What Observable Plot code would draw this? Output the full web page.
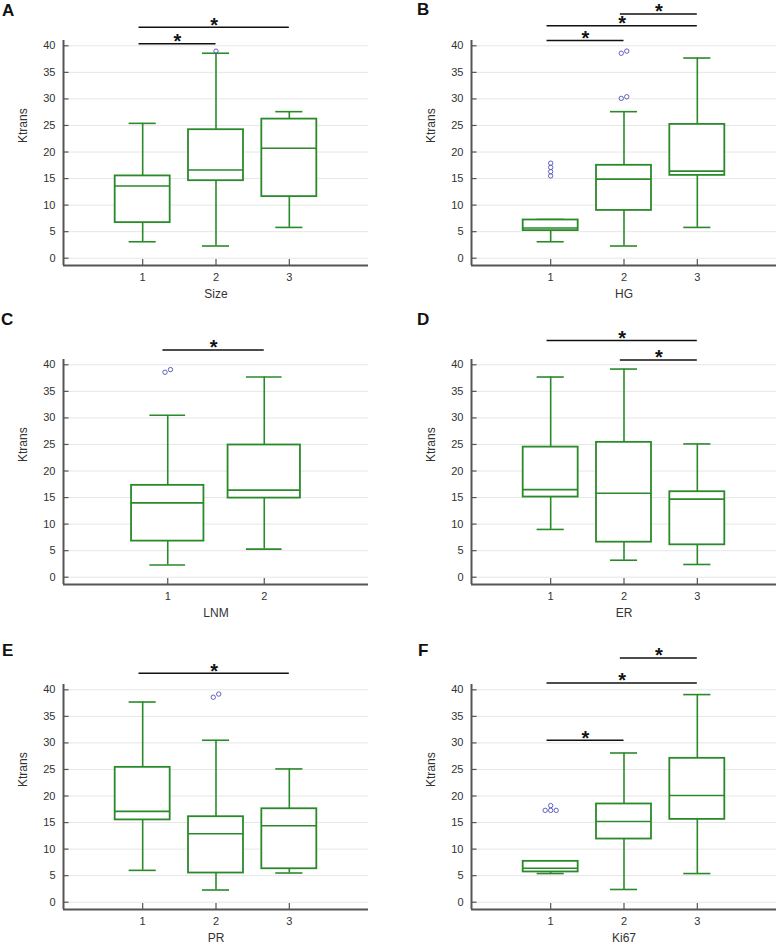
<!DOCTYPE html>
<html>
<head>
<meta charset="utf-8">
<script src="https://cdn.jsdelivr.net/npm/d3@7"></script>
<script src="https://cdn.jsdelivr.net/npm/@observablehq/plot@0.6"></script>
<style>
  html, body { margin: 0; padding: 0; background: #fff; }
  #root { position: relative; width: 778px; height: 950px; overflow: hidden; background: #fff;
          font-family: "Liberation Sans", Arial, Helvetica, sans-serif; }
  .panel { position: absolute; width: 389px; height: 310px; }
  .panel svg { max-width: none; display: block; }
  .letter { position: absolute; font-weight: bold; font-size: 17px; line-height: 17px; color: #111; }
</style>
</head>
<body>
<div id="root"></div>
<script>
// ---------- data (Ktrans) ----------
const yTitle = "Ktrans";
const yTicks = [0, 5, 10, 15, 20, 25, 30, 35, 40];

// A: Size
const sizeBoxes = [
  {group: 1, low: 3.1, q1: 6.7, median: 13.6, q3: 15.5, high: 25.4},
  {group: 2, low: 2.3, q1: 14.6, median: 16.6, q3: 24.2, high: 38.6},
  {group: 3, low: 5.8, q1: 11.6, median: 20.7, q3: 26.2, high: 27.6}
];
const sizeOutliers = [{group: 2, value: 39.0}];
const sizeSig = [{from: 1, to: 3, level: 43.5}, {from: 1, to: 2, level: 40.4}];

// B: HG
const hgBoxes = [
  {group: 1, low: 3.1, q1: 5.2, median: 5.7, q3: 7.2, high: 7.3},
  {group: 2, low: 2.3, q1: 9.0, median: 14.9, q3: 17.5, high: 27.6},
  {group: 3, low: 5.8, q1: 15.6, median: 16.4, q3: 25.2, high: 37.7}
];
const hgOutliers = [
  {group: 1, value: 15.5}, {group: 1, value: 16.3}, {group: 1, value: 17.1}, {group: 1, value: 17.9},
  {group: 2, value: 30.1}, {group: 2, value: 30.4}, {group: 2, value: 38.6}, {group: 2, value: 39.0}
];
const hgSig = [{from: 2, to: 3, level: 46.0}, {from: 1, to: 3, level: 43.8}, {from: 1, to: 2, level: 41.0}];

// C: LNM
const lnmBoxes = [
  {group: 1, low: 2.3, q1: 6.8, median: 14.0, q3: 17.3, high: 30.5},
  {group: 2, low: 5.3, q1: 14.9, median: 16.4, q3: 24.9, high: 37.7}
];
const lnmOutliers = [{group: 1, value: 38.6}, {group: 1, value: 39.1}];
const lnmSig = [{from: 1, to: 2, level: 42.8}];

// D: ER
const erBoxes = [
  {group: 1, low: 9.0, q1: 15.1, median: 16.5, q3: 24.5, high: 37.7},
  {group: 2, low: 3.2, q1: 6.6, median: 15.8, q3: 25.4, high: 39.2},
  {group: 3, low: 2.4, q1: 6.1, median: 14.7, q3: 16.1, high: 25.1}
];
const erOutliers = [];
const erSig = [{from: 1, to: 3, level: 44.6}, {from: 2, to: 3, level: 40.9}];

// E: PR
const prBoxes = [
  {group: 1, low: 6.0, q1: 15.5, median: 17.1, q3: 25.4, high: 37.7},
  {group: 2, low: 2.3, q1: 5.5, median: 12.9, q3: 16.1, high: 30.5},
  {group: 3, low: 5.5, q1: 6.3, median: 14.4, q3: 17.6, high: 25.1}
];
const prOutliers = [{group: 2, value: 38.6}, {group: 2, value: 39.2}];
const prSig = [{from: 1, to: 3, level: 43.1}];

// F: Ki67
const kiBoxes = [
  {group: 1, low: 5.4, q1: 5.7, median: 6.4, q3: 7.7, high: 7.8},
  {group: 2, low: 2.4, q1: 11.9, median: 15.2, q3: 18.5, high: 28.1},
  {group: 3, low: 5.4, q1: 15.6, median: 20.1, q3: 27.1, high: 39.1}
];
const kiOutliers = [{group: 1, value: 17.3}, {group: 1, value: 17.3}, {group: 1, value: 17.3}, {group: 1, value: 18.2}];
const kiSig = [{from: 2, to: 3, level: 46.0}, {from: 1, to: 3, level: 41.3}, {from: 1, to: 2, level: 30.5}];

const panels = [
  {letter: "A", label: "Size", boxes: sizeBoxes, outliers: sizeOutliers, sig: sizeSig, col: 0, row: 0},
  {letter: "B", label: "HG",   boxes: hgBoxes,   outliers: hgOutliers,   sig: hgSig,   col: 1, row: 0},
  {letter: "C", label: "LNM",  boxes: lnmBoxes,  outliers: lnmOutliers,  sig: lnmSig,  col: 0, row: 1},
  {letter: "D", label: "ER",   boxes: erBoxes,   outliers: erOutliers,   sig: erSig,   col: 1, row: 1},
  {letter: "E", label: "PR",   boxes: prBoxes,   outliers: prOutliers,   sig: prSig,   col: 0, row: 2},
  {letter: "F", label: "Ki67", boxes: kiBoxes,   outliers: kiOutliers,   sig: kiSig,   col: 1, row: 2}
];

// ---------- layout & style ----------
const colLeft = [0, 407.5];
const rowTop = [0, 319.3, 644.3];
const letterPos = [[2, 1.6], [417, 0.6], [1, 310.6], [417, 310.6], [2, 642.3], [418, 641.6]];
const green = "#2a8a2a";
const axisColor = "#555";
const W = 389, H = 310, mL = 63, mR = 21, mT = 40, mB = 45;

function dodge(outliers, pxX, pxY) {
  const res = [];
  for (const [g, arr] of d3.group(outliers, d => d.group)) {
    const sorted = arr.slice().sort((a, b) => a.value - b.value);
    const clusters = [];
    let cur = [sorted[0]];
    for (let i = 1; i < sorted.length; i++) {
      if ((sorted[i].value - cur[cur.length - 1].value) * pxY < 4) cur.push(sorted[i]);
      else { clusters.push(cur); cur = [sorted[i]]; }
    }
    clusters.push(cur);
    for (const c of clusters) c.forEach((d, i) => res.push({...d, x: g + (i - (c.length - 1) / 2) * 5.5 / pxX}));
  }
  return res;
}

function makePanel(cfg) {
  const groups = cfg.boxes.map(d => d.group);
  const xDomain = [d3.min(groups) - 1.08, d3.max(groups) + 1.08];
  const yDomain = [-1.37, 41];
  const pw = W - mL - mR, ph = H - mT - mB;
  const pxX = pw / (xDomain[1] - xDomain[0]);
  const pxY = ph / (yDomain[1] - yDomain[0]);
  const boxHalf = 0.375, capHalf = 0.185;
  const outs = dodge(cfg.outliers, pxX, pxY);
  return Plot.plot({
    width: W, height: H,
    marginLeft: mL, marginRight: mR, marginTop: mT, marginBottom: mB,
    x: {type: "linear", domain: xDomain},
    y: {type: "linear", domain: yDomain},
    style: {fontFamily: "'Liberation Sans', Arial, Helvetica, sans-serif", fontSize: "11px", color: "#333", background: "transparent", overflow: "visible", maxWidth: "none"},
    marks: [
      Plot.ruleY(yTicks, {y: d => d, stroke: "#e6e6e6", strokeWidth: 1}),
      // whiskers
      Plot.ruleX(cfg.boxes, {x: "group", y1: "low", y2: "q1", stroke: green, strokeWidth: 1.6}),
      Plot.ruleX(cfg.boxes, {x: "group", y1: "q3", y2: "high", stroke: green, strokeWidth: 1.6}),
      Plot.ruleY(cfg.boxes, {y: "low", x1: d => d.group - capHalf, x2: d => d.group + capHalf, stroke: green, strokeWidth: 1.6}),
      Plot.ruleY(cfg.boxes, {y: "high", x1: d => d.group - capHalf, x2: d => d.group + capHalf, stroke: green, strokeWidth: 1.6}),
      // boxes
      Plot.rect(cfg.boxes, {x1: d => d.group - boxHalf, x2: d => d.group + boxHalf, y1: "q1", y2: "q3", fill: "white", stroke: green, strokeWidth: 1.8}),
      Plot.ruleY(cfg.boxes, {y: "median", x1: d => d.group - boxHalf, x2: d => d.group + boxHalf, stroke: green, strokeWidth: 1.6}),
      // outliers
      Plot.dot(outs, {x: "x", y: "value", r: 2.2, stroke: "#5050b8", strokeWidth: 0.9, fill: "none"}),
      // axis lines and inward ticks
      Plot.ruleY(yTicks, {y: d => d, stroke: axisColor, strokeWidth: 1.2, insetRight: pw - 5.5}),
      Plot.ruleX(groups, {x: d => d, stroke: axisColor, strokeWidth: 1.2, insetTop: ph - 6}),
      Plot.ruleX([xDomain[0]], {x: d => d, stroke: axisColor, strokeWidth: 2}),
      Plot.ruleY([yDomain[0]], {y: d => d, stroke: axisColor, strokeWidth: 2}),
      Plot.axisX({ticks: groups, tickSize: 0, tickPadding: 8, tickFormat: d => String(d), label: null}),
      Plot.axisY({ticks: yTicks, tickSize: 0, tickPadding: 8, label: null}),
      // titles
      Plot.text([cfg.label], {text: d => d, frameAnchor: "bottom", dy: 32, fontSize: 12, fill: "#333"}),
      Plot.text([yTitle], {text: d => d, frameAnchor: "left", dx: -40, dy: -10, rotate: -90, fontSize: 12, fill: "#333"}),
      // significance bars
      Plot.ruleY(cfg.sig, {y: "level", x1: d => d.from - 0.05, x2: "to", stroke: "#111", strokeWidth: 1.5}),
      Plot.text(cfg.sig, {x: d => (d.from - 0.05 + d.to) / 2, y: "level", text: () => "*", fontSize: 20, fontWeight: "bold", fill: "#111", dy: -2})
    ]
  });
}

const root = document.getElementById("root");
panels.forEach((cfg, i) => {
  const wrap = document.createElement("div");
  wrap.className = "panel";
  wrap.style.left = colLeft[cfg.col] + "px";
  wrap.style.top = rowTop[cfg.row] + "px";
  wrap.appendChild(makePanel(cfg));
  root.appendChild(wrap);
  const lt = document.createElement("div");
  lt.className = "letter";
  lt.textContent = cfg.letter;
  lt.style.left = letterPos[i][0] + "px";
  lt.style.top = letterPos[i][1] + "px";
  root.appendChild(lt);
});
</script>
</body>
</html>
